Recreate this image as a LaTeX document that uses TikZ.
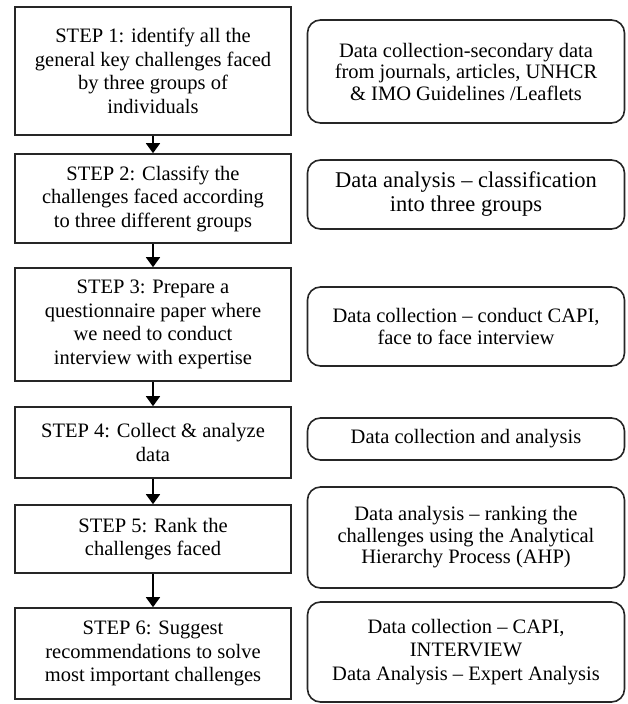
\documentclass[tikz,border=0pt]{standalone}
\usepackage{fontspec}
\setmainfont{Liberation Serif}
\usetikzlibrary{arrows.meta}
\begin{document}
\begin{tikzpicture}[x=1pt,y=-1pt,
  stepbox/.style={draw=black!85, line width=1.6pt, minimum width=276pt, align=center, inner sep=0pt,
    font=\fontsize{20.5}{23.5}\selectfont},
  methodbox/.style={draw=black!85, line width=1.6pt, rounded corners=13pt, minimum width=317pt, align=center, inner sep=0pt,
    font=\fontsize{20.5}{21.5}\selectfont},
  flow/.style={line width=1.6pt, -{Triangle[width=14pt,length=10pt]}}]
\useasboundingbox (0,0) rectangle (627,704);
\node[stepbox, minimum height=128pt] (s1) at (153,71) {STEP 1: identify all the\\general key challenges faced\\by three groups of\\individuals};
\node[stepbox, minimum height=89pt] (s2) at (153,198.5) {STEP 2: Classify the\\challenges faced according\\to three different groups};
\node[stepbox, minimum height=113pt] (s3) at (153,324.5) {STEP 3: Prepare a\\questionnaire paper where\\we need to conduct\\interview with expertise};
\node[stepbox, minimum height=71pt] (s4) at (153,442.5) {STEP 4: Collect \& analyze\\data};
\node[stepbox, minimum height=68pt] (s5) at (153,539) {STEP 5: Rank the\\challenges faced};
\node[stepbox, minimum height=91pt] (s6) at (153,653.5) {STEP 6: Suggest\\recommendations to solve\\most important challenges};

\node[methodbox, minimum height=103pt] (m1) at (466,71.5) {Data collection-secondary data\\from journals, articles, UNHCR\\\& IMO Guidelines /Leaflets};
\node[methodbox, minimum height=69pt, font=\fontsize{22.5}{24}\selectfont] (m2) at (466,194.5) {Data analysis -- classification\\into three groups};
\node[methodbox, minimum height=79pt] (m3) at (466,326.5) {Data collection -- conduct CAPI,\\face to face interview};
\node[methodbox, minimum height=42pt] (m4) at (466,439) {Data collection and analysis};
\node[methodbox, minimum height=101pt] (m5) at (466,537.5) {Data analysis -- ranking the\\challenges using the Analytical\\Hierarchy Process (AHP)};
\node[methodbox, minimum height=100pt, font=\fontsize{20.5}{23.5}\selectfont] (m6) at (466,652) {Data collection -- CAPI,\\INTERVIEW\\Data Analysis -- Expert Analysis};

\draw[flow] (s1) -- (s2);
\draw[flow] (s2) -- (s3);
\draw[flow] (s3) -- (s4);
\draw[flow] (s4) -- (s5);
\draw[flow] (s5) -- (s6);
\end{tikzpicture}
\end{document}
